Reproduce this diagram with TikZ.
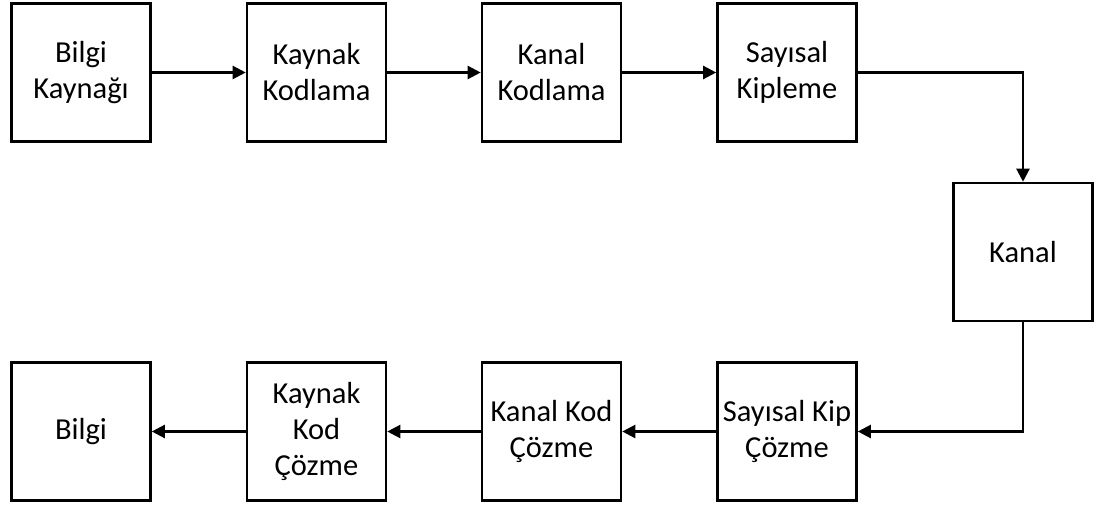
\documentclass[tikz,border=0pt]{standalone}
\usepackage{fontspec}
\setmainfont{Carlito}
\usetikzlibrary{arrows.meta}
\begin{document}
\begin{tikzpicture}[x=1pt,y=-1pt,
  block/.style={draw, line width=2.6pt, minimum width=139pt, minimum height=138pt,
    align=center, inner sep=0pt, font=\fontsize{30.5}{36}\selectfont},
  link/.style={line width=2.3pt, -{Triangle[length=13pt,width=13pt]}}]
  \useasboundingbox (0,0) rectangle (1097,508);
  % transmitter chain
  \node[block] (src) at (81,72.5) {Bilgi\\Kaynağı};
  \node[block] (senc) at (316.5,72.5) {Kaynak\\Kodlama};
  \node[block] (cenc) at (551.5,72.5) {Kanal\\Kodlama};
  \node[block] (mod) at (787,72.5) {Sayısal\\Kipleme};
  % channel
  \node[block] (ch) at (1023,252) {Kanal};
  % receiver chain
  \node[block] (dem) at (787,431.5) {Sayısal Kip\\Çözme};
  \node[block] (cdec) at (551.5,431.5) {Kanal Kod\\Çözme};
  \node[block] (sdec) at (316.5,431.5) {Kaynak\\Kod\\Çözme};
  \node[block] (sink) at (81,431.5) {Bilgi};
  % connectors
  \draw[link] (src) -- (senc);
  \draw[link] (senc) -- (cenc);
  \draw[link] (cenc) -- (mod);
  \draw[link] (mod.east) -| (ch.north);
  \draw[link] (ch.south) |- (dem.east);
  \draw[link] (dem) -- (cdec);
  \draw[link] (cdec) -- (sdec);
  \draw[link] (sdec) -- (sink);
\end{tikzpicture}
\end{document}
